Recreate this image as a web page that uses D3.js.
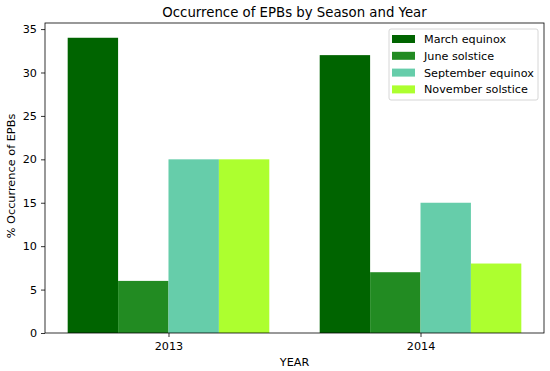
<!DOCTYPE html>
<html>
<head>
<meta charset="utf-8">
<script src="https://cdn.jsdelivr.net/npm/d3@7"></script>
<style>
  body { margin: 0; background: #fff; }
  text { font-family: "DejaVu Sans", sans-serif; fill: #000; }
</style>
</head>
<body>
<svg id="chart" width="550" height="371"></svg>
<script>
const years = ["2013", "2014"];
const seasons = ["March equinox", "June solstice", "September equinox", "November solstice"];
const colors = ["#006400", "#228B22", "#66CDAA", "#ADFF2F"];
const marchEquinox = [34, 32];
const juneSolstice = [6, 7];
const septemberEquinox = [20, 15];
const novemberSolstice = [20, 8];
const yTicks = [0, 5, 10, 15, 20, 25, 30, 35];

const series = [marchEquinox, juneSolstice, septemberEquinox, novemberSolstice];

const margin = { left: 45, right: 6, top: 23, bottom: 38 };
const width = 550 - margin.left - margin.right;
const height = 371 - margin.top - margin.bottom;
const barW = 0.2;

const svg = d3.select("#chart");
const g = svg.append("g").attr("transform", `translate(${margin.left},${margin.top})`);

// x in "group index" units like matplotlib
const x = d3.scaleLinear().domain([-0.49, 1.49]).range([0, width]);
const y = d3.scaleLinear().domain([0, 35.7]).range([height, 0]);

series.forEach((vals, s) => {
  g.selectAll(null)
    .data(vals)
    .enter()
    .append("rect")
    .attr("x", (d, i) => x(i - 0.4 + s * barW))
    .attr("y", d => y(d))
    .attr("width", x(barW) - x(0))
    .attr("height", d => height - y(d))
    .attr("fill", colors[s]);
});

const xAxis = g.append("g")
  .attr("transform", `translate(0,${height})`)
  .call(d3.axisBottom(x).tickValues([0, 1]).tickFormat(i => years[i]).tickSize(4).tickPadding(5));
const yAxis = g.append("g")
  .call(d3.axisLeft(y).tickValues(yTicks).tickSize(4).tickPadding(4));

[xAxis, yAxis].forEach(a => {
  a.select(".domain").remove();
  a.selectAll("text").style("font-size", "11.2px").style("font-family", "DejaVu Sans, sans-serif");
  a.selectAll("line").attr("stroke", "#000").attr("stroke-width", 0.8);
});

// frame
g.append("rect")
  .attr("width", width).attr("height", height)
  .attr("fill", "none").attr("stroke", "#000").attr("stroke-width", 0.8);

svg.append("text")
  .attr("x", margin.left + width / 2).attr("y", 17)
  .attr("text-anchor", "middle").style("font-size", "13.3px")
  .text("Occurrence of EPBs by Season and Year");

svg.append("text")
  .attr("x", margin.left + width / 2).attr("y", 366)
  .attr("text-anchor", "middle").style("font-size", "11.2px")
  .text("YEAR");

svg.append("text")
  .attr("transform", "translate(15,176) rotate(-90)")
  .attr("text-anchor", "middle").style("font-size", "11.3px")
  .text("% Occurrence of EPBs");

// legend
const leg = svg.append("g").attr("transform", "translate(389,29)");
leg.append("rect")
  .attr("width", 149).attr("height", 71).attr("rx", 2)
  .attr("fill", "#fff").attr("fill-opacity", 0.8)
  .attr("stroke", "#ccc").attr("stroke-width", 0.8);
seasons.forEach((name, i) => {
  leg.append("rect")
    .attr("x", 3).attr("y", 6 + i * 16.8)
    .attr("width", 23).attr("height", 8)
    .attr("fill", colors[i]);
  leg.append("text")
    .attr("x", 35).attr("y", 14 + i * 16.8)
    .style("font-size", "11.2px")
    .text(name);
});
</script>
</body>
</html>
